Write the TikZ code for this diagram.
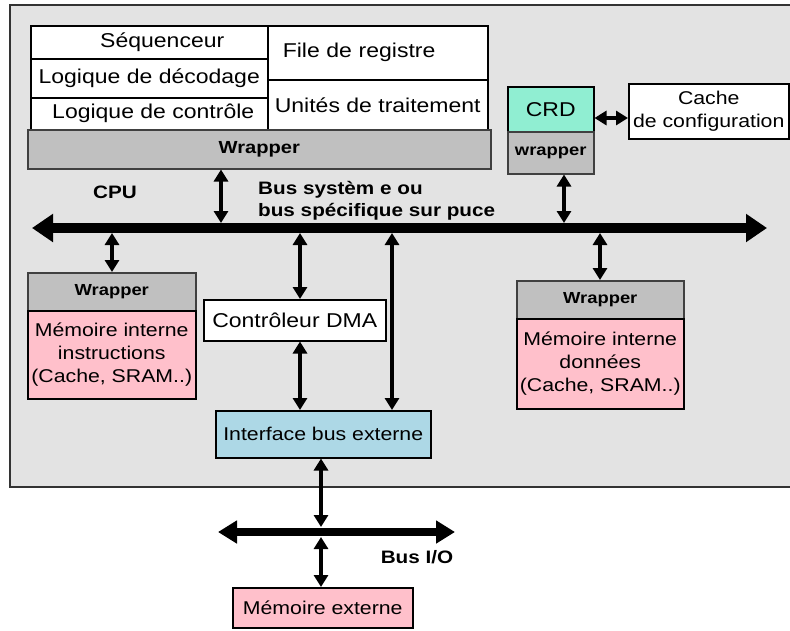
\documentclass[tikz,border=0pt]{standalone}
\usepackage{fontspec}
\setmainfont[FakeStretch=1.15]{Liberation Sans}
\usetikzlibrary{arrows.meta}

\definecolor{chipbg}{HTML}{E3E3E3}
\definecolor{wrapgray}{HTML}{C0C0C0}
\definecolor{mempink}{HTML}{FFC0CB}
\definecolor{crdgreen}{HTML}{90EED2}
\definecolor{ifblue}{HTML}{ADD8E6}

\tikzset{
  blk/.style={draw=black, line width=1.5pt, rectangle, inner sep=0pt, anchor=north west,
              font=\fontsize{20}{24}\selectfont},
  cell/.style={blk, fill=white},
  wrapbox/.style={blk, fill=wrapgray, draw=black!75, font=\fontsize{16}{19}\selectfont\bfseries},
  membox/.style={blk, fill=mempink, align=center, font=\fontsize{18.5}{23}\selectfont},
  lbl/.style={inner sep=0pt, font=\fontsize{18}{22}\selectfont\bfseries},
  link/.style={line width=4pt, {Triangle[width=14pt,length=12pt]}-{Triangle[width=14pt,length=12pt]}},
  bus/.style={line width=10pt, {Triangle[width=27pt,length=21pt]}-{Triangle[width=27pt,length=21pt]}},
  iobus/.style={line width=8pt, {Triangle[width=22pt,length=19pt]}-{Triangle[width=22pt,length=19pt]}},
}

\begin{document}
\begin{tikzpicture}[x=1pt, y=-1pt]
  \useasboundingbox (0,0) rectangle (790,630);

  % chip outline
  \fill[chipbg, draw=black!80, line width=1.5pt] (10,5) rectangle (800,487);

  % CPU core blocks
  \node[cell, minimum width=237pt, minimum height=33pt] (seq) at (30,25) {\hspace*{26pt}Séquenceur};
  \node[cell, minimum width=237pt, minimum height=39pt] (dec) at (30,58) {Logique de décodage};
  \node[cell, minimum width=237pt, minimum height=32pt] (ctl) at (30,97) {\hspace*{8pt}Logique de contrôle};
  \node[cell, minimum width=220pt, minimum height=54pt, text width=190pt, align=left,
        inner xsep=15pt] (reg) at (267,25) {File de registre\\[4pt]};
  \node[cell, minimum width=220pt, minimum height=50pt] (alu) at (267,79) {Unités de traitement};
  \node[wrapbox, minimum width=463pt, minimum height=39pt,
        font=\fontsize{17.5}{21}\selectfont\bfseries] (cpuwrap) at (27,129) {Wrapper};

  \node[lbl] (cpu) at (115,192) {CPU};
  \node[lbl, anchor=west, align=left] (buslbl) at (258,201) {Bus systèm e ou\\bus spécifique sur puce};

  % reconfigurable unit
  \node[blk, fill=crdgreen, minimum width=86pt, minimum height=45pt] (crd) at (507,86) {CRD};
  \node[wrapbox, minimum width=86pt, minimum height=42pt] (crdwrap) at (507,131) {wrapper};
  \node[cell, minimum width=160pt, minimum height=55pt, align=center,
        font=\fontsize{18.5}{23}\selectfont] (cache) at (628,83) {Cache\\de configuration};

  % memories and peripherals
  \node[wrapbox, minimum width=168pt, minimum height=38pt] (iwrap) at (27,272) {Wrapper};
  \node[membox, minimum width=168pt, minimum height=88pt] (imem) at (27,310)
       {Mémoire interne\\instructions\\(Cache, SRAM..)};
  \node[cell, minimum width=182pt, minimum height=41pt] (dma) at (203,299) {Contrôleur DMA};
  \node[blk, fill=ifblue, minimum width=215pt, minimum height=47pt,
        font=\fontsize{18.5}{22}\selectfont] (ebi) at (215,410) {Interface bus externe};
  \node[wrapbox, minimum width=167pt, minimum height=38pt] (dwrap) at (516,280) {Wrapper};
  \node[membox, minimum width=167pt, minimum height=90pt] (dmem) at (516,318)
       {Mémoire interne\\données\\(Cache, SRAM..)};
  \node[membox, minimum width=180pt, minimum height=40pt] (extmem) at (232,587) {Mémoire externe};

  % system bus
  \coordinate (busL) at (32,228);
  \coordinate (busR) at (767,228);
  \draw[bus] (busL) -- (busR);

  % I/O bus
  \coordinate (ioL) at (218,532);
  \coordinate (ioR) at (455,532);
  \draw[iobus] (ioL) -- (ioR);
  \node[lbl] (iolbl) at (417,557) {Bus I/O};

  % taps on the system bus
  \coordinate (tcpu) at (221,223);
  \coordinate (tcrd) at (564,223);
  \coordinate (timem) at (112,233);
  \coordinate (tdma) at (300,233);
  \coordinate (tebi) at (392,233);
  \coordinate (tdmem) at (600,233);
  \coordinate (tio1) at (321,527);
  \coordinate (tio2) at (321,537);

  \draw[link] (cpuwrap.south -| tcpu) -- (tcpu);
  \draw[link] (crdwrap.south -| tcrd) -- (tcrd);
  \draw[link] (timem) -- (iwrap.north -| timem);
  \draw[link] (tdma) -- (dma.north -| tdma);
  \draw[link] (tebi) -- (ebi.north -| tebi);
  \draw[link] (tdmem) -- (dwrap.north -| tdmem);
  \draw[link] (dma.south -| tdma) -- (ebi.north -| tdma);
  \draw[link] (ebi.south -| tio1) -- (tio1);
  \draw[link] (tio2) -- (extmem.north -| tio2);
  \draw[link] (crd.east |- 0,118) -- (cache.west |- 0,118);
\end{tikzpicture}
\end{document}
